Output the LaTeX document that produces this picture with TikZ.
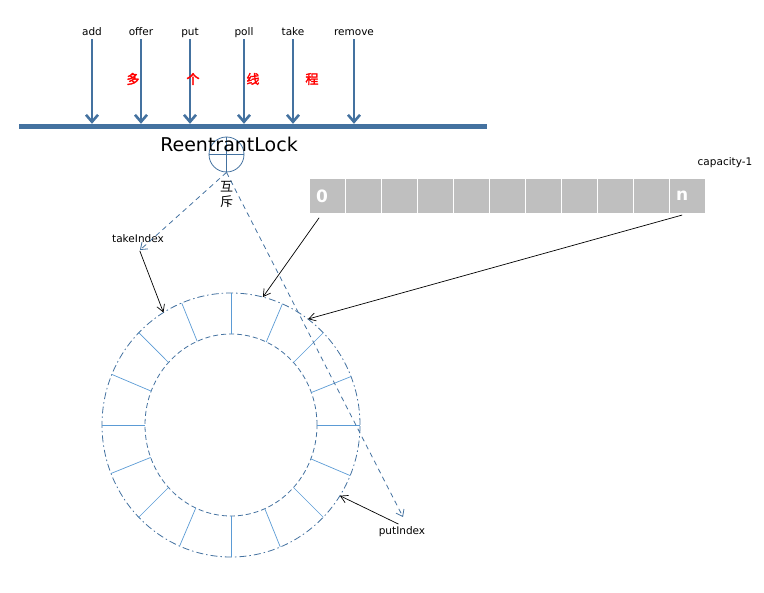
\documentclass[tikz,border=0pt]{standalone}
\usepackage{fontspec}
\setmainfont{DejaVu Sans}
\newfontfamily\cjk[AutoFakeBold=2.5]{Noto Sans CJK SC}
\usetikzlibrary{shapes.geometric, arrows.meta, positioning, calc}
\definecolor{lockblue}{RGB}{68,114,160}
\definecolor{spokeblue}{RGB}{91,155,213}
\definecolor{cellgray}{RGB}{191,191,191}

\begin{document}
\begin{tikzpicture}[x=1pt, y=-1pt]
    % Styles
    \tikzstyle{method} = [font=\fontsize{10.5}{12}\selectfont, text height=8pt, text depth=2pt, inner sep=1pt]
    \tikzstyle{call} = [draw=lockblue, line width=2.6pt, -{Straight Barb[length=7pt,width=12pt]}]
    \tikzstyle{redchar} = [text=red, inner sep=0pt, font=\cjk\fontsize{13}{13}\selectfont\bfseries]
    \tikzstyle{cellbox} = [rectangle, draw=white, fill=cellgray, minimum width=36pt, minimum height=35pt, inner sep=0pt, text=white, font=\bfseries\fontsize{17}{17}\selectfont]
    \tikzstyle{pointer} = [draw=black, line width=0.7pt, -{Straight Barb[length=7pt,width=8pt]}]
    \tikzstyle{guard} = [draw=lockblue, line width=0.8pt, dash pattern=on 5pt off 4pt, -{Straight Barb[length=6pt,width=9pt]}]
    \tikzstyle{ring} = [ellipse, draw=lockblue, line width=0.8pt, inner sep=0pt, outer sep=0pt]

    \useasboundingbox (0,0) rectangle (764,593);

    % Lock bar and calling methods
    \node[fill=lockblue, minimum width=468pt, minimum height=5pt, inner sep=0pt] (lockbar) at (253,126.5) {};
    \foreach \name/\x in {add/92, offer/141, put/190, poll/244, take/293, remove/354} {
        \node[method] (\name) at (\x,33) {\name};
        \draw[call] (\name.south) -- (\name.south |- lockbar.north);
    }
    \node[redchar] (duo) at (133,79) {多};
    \node[redchar] (ge) at (193,79) {个};
    \node[redchar] (xian) at (253,79) {线};
    \node[redchar] (cheng) at (312,79) {程};

    % Lock
    \node[circle, draw=lockblue, line width=0.8pt, minimum size=35pt, inner sep=0pt] (lock) at (226.5,154.5) {};
    \draw[lockblue, line width=0.8pt] (lock.north) -- (lock.south) (lock.west) -- (lock.east);
    \node[font=\fontsize{19}{19}\selectfont, inner sep=0pt] (reentrant) at (229,144) {ReentrantLock};
    \node[font=\cjk\fontsize{13}{15}\selectfont, align=center, inner sep=0pt] (mutex) at (226.5,194.5) {互\\斥};

    % Array
    \foreach \i/\t in {0/0, 1/, 2/, 3/, 4/, 5/, 6/, 7/, 8/, 9/, 10/n}
        \node[cellbox, text width=22pt, align=left] (c\i) at (327+36*\i,196) {\t};
    \node[method] (cap) at (725,163) {capacity-1};

    % Ring buffer
    \node[ring, dash pattern=on 7pt off 3pt on 1.5pt off 3pt, minimum width=258pt, minimum height=264pt] (outer) at (231,425) {};
    \node[ring, dash pattern=on 5pt off 3pt, minimum width=172pt, minimum height=182pt] (inner) at (231,425) {};
    \foreach \a in {0,22.5,...,337.5}
        \draw[spokeblue, line width=0.7pt] (inner.\a) -- (outer.\a);

    % Index labels
    \node[method] (takeIdx) at (138,240) {takeIndex};
    \node[method] (putIdx) at (402,532) {putIndex};
    \coordinate (takeEnd) at (140,250);
    \coordinate (putEnd) at (403,517);

    % Arrows
    \draw[guard] (lock.south) -- (takeEnd);
    \draw[guard] (lock.south) -- (putEnd);
    \draw[pointer, shorten <=5pt] (takeIdx.south) -- (outer.121);
    \draw[pointer, shorten <=4pt] (putIdx.north) -- (outer.-33);
    \draw[pointer, shorten <=5pt] ([xshift=-5pt]c0.south) -- (outer.76);
    \draw[pointer, shorten <=5pt] (c10.south) -- (outer.54);
\end{tikzpicture}
\end{document}
